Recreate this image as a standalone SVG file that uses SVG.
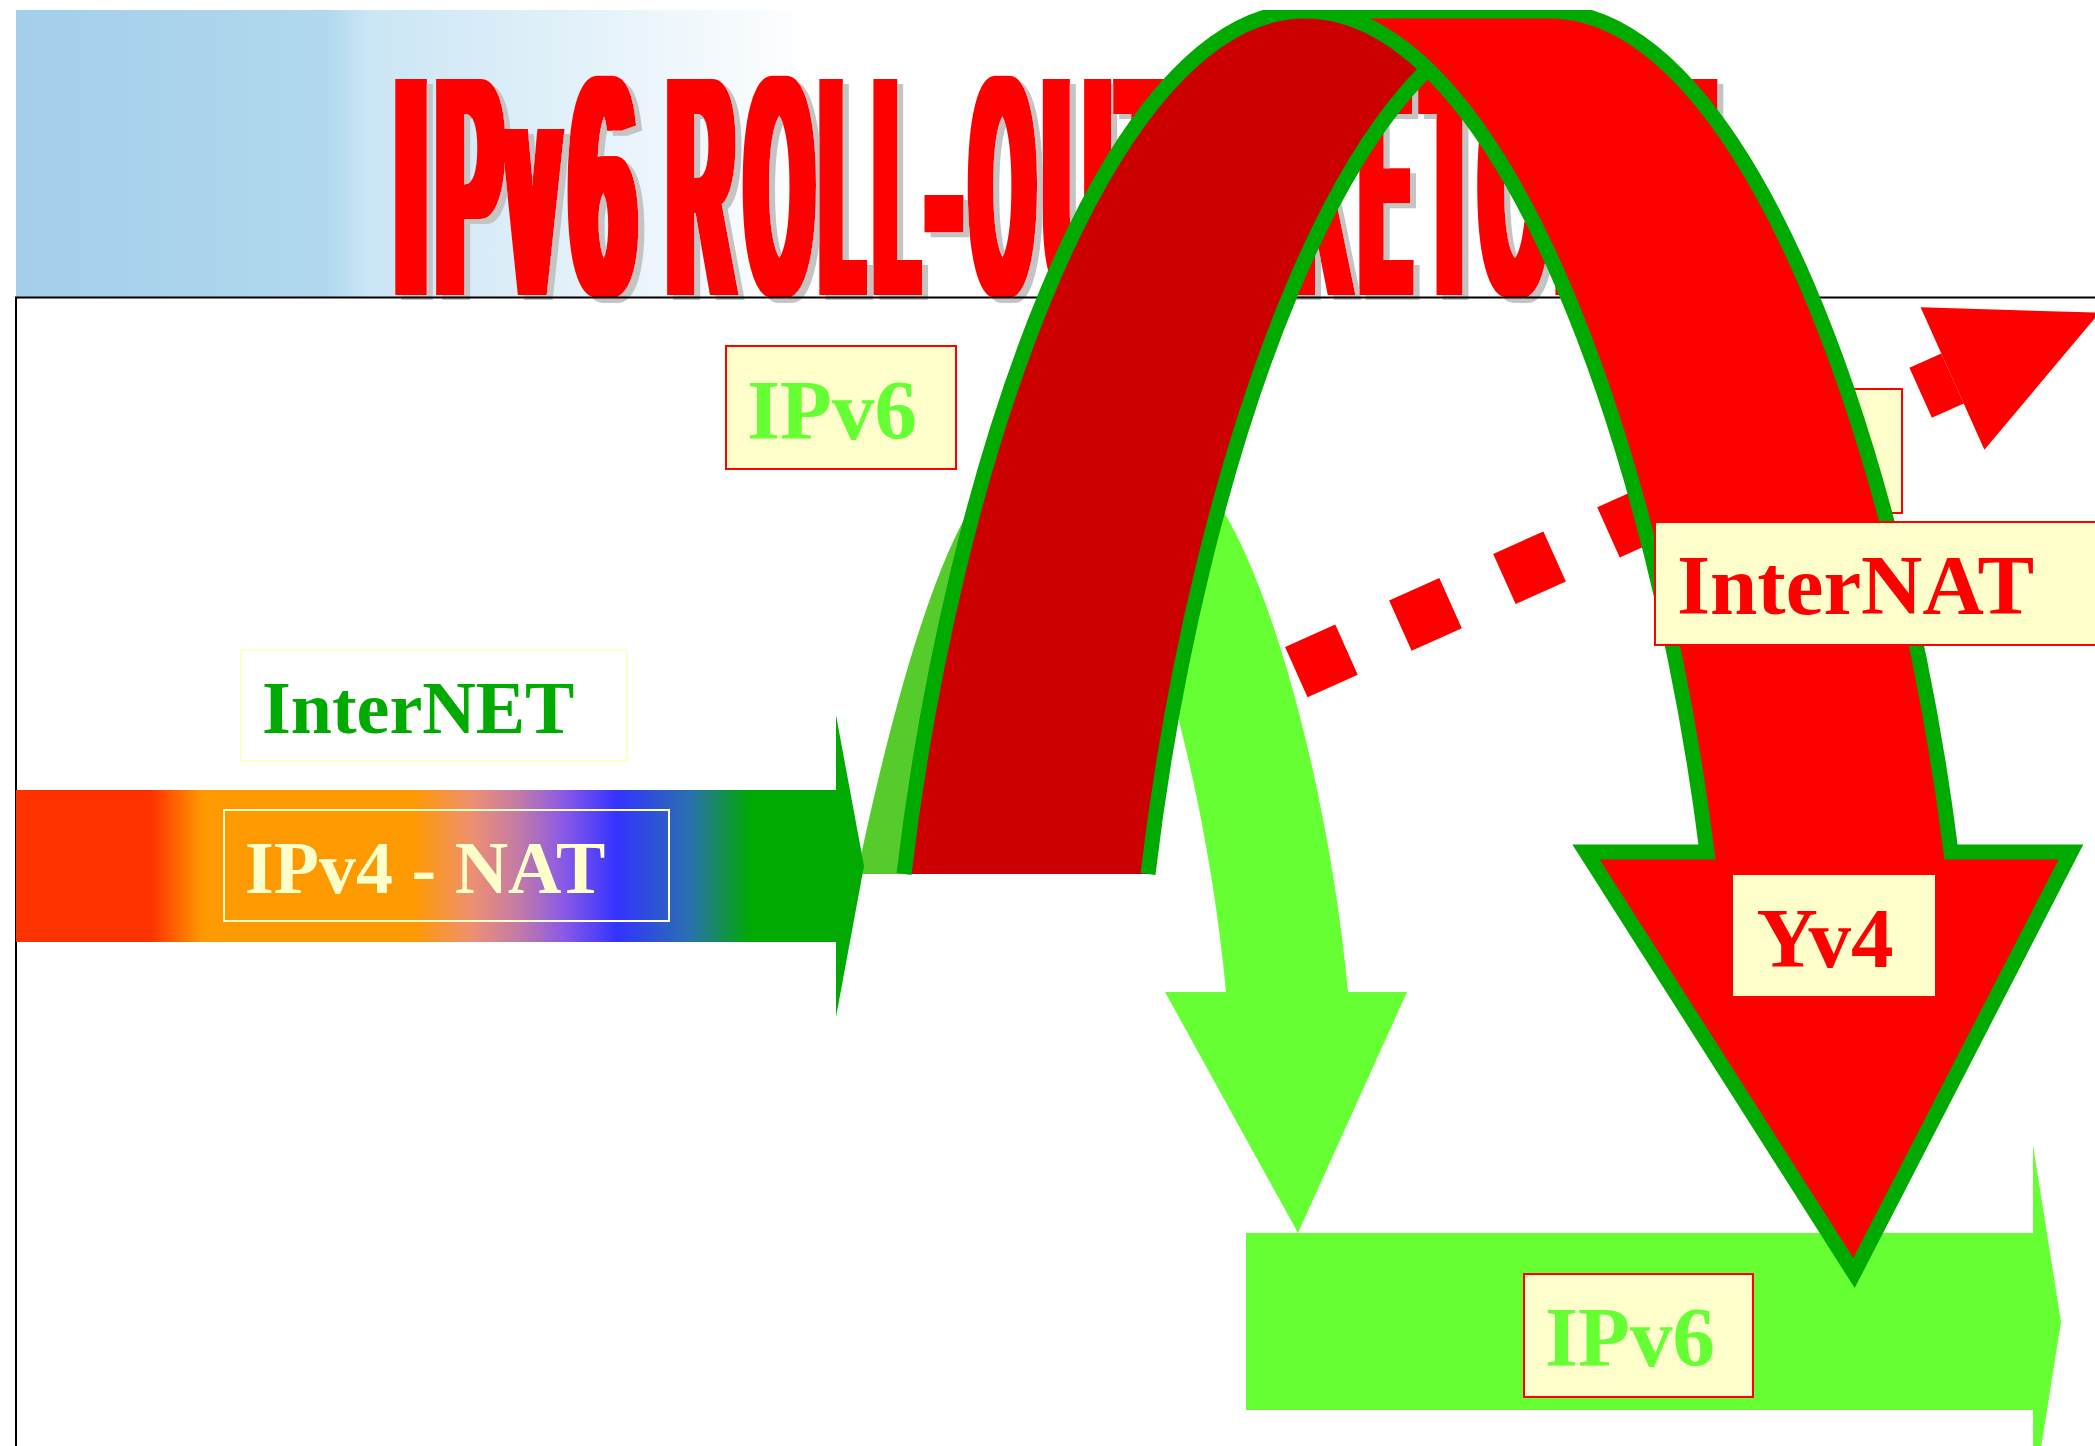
<svg xmlns="http://www.w3.org/2000/svg" width="2095" height="1446" viewBox="0 0 2095 1446">
<defs>
  <linearGradient id="sky" x1="16" y1="0" x2="900" y2="0" gradientUnits="userSpaceOnUse">
    <stop offset="0" stop-color="#A3CFEA"/>
    <stop offset="0.35" stop-color="#B1D8EE"/>
    <stop offset="0.4" stop-color="#CBE6F5"/>
    <stop offset="0.65" stop-color="#E4F2FA"/>
    <stop offset="0.9" stop-color="#FFFFFF"/>
  </linearGradient>
  <linearGradient id="v4" x1="16" y1="0" x2="864" y2="0" gradientUnits="userSpaceOnUse">
    <stop offset="0" stop-color="#FF3300"/>
    <stop offset="0.16" stop-color="#FF3300"/>
    <stop offset="0.22" stop-color="#FF9900"/>
    <stop offset="0.468" stop-color="#FF9900"/>
    <stop offset="0.537" stop-color="#EE9070"/>
    <stop offset="0.592" stop-color="#C47BA6"/>
    <stop offset="0.645" stop-color="#8B5AE6"/>
    <stop offset="0.709" stop-color="#3333FF"/>
    <stop offset="0.794" stop-color="#2A70B0"/>
    <stop offset="0.867" stop-color="#00AA00"/>
    <stop offset="1" stop-color="#00AA00"/>
  </linearGradient>
  <clipPath id="topclip"><rect x="0" y="10" width="2095" height="1436"/></clipPath>
  <filter id="ttlfx" x="-5%" y="-15%" width="110%" height="130%">
    <feMorphology in="SourceGraphic" operator="dilate" radius="28 0.3" result="d"/>
    <feFlood flood-color="#C4C4C4"/>
    <feComposite in2="d" operator="in"/>
    <feOffset dx="22" dy="5" result="s"/>
    <feMerge><feMergeNode in="s"/><feMergeNode in="d"/></feMerge>
  </filter>
</defs>
<style>
  .lbl{font-family:"Liberation Serif","Times New Roman",serif;font-weight:bold}
  .box{fill:#FFFFCC;stroke:#FF0000;stroke-width:2}
  .arc{stroke:#00AA00;stroke-width:15;stroke-linejoin:miter;stroke-miterlimit:6}
  .ttl{font-family:"Liberation Sans",Arial,sans-serif;font-weight:bold;font-size:314px}
</style>

<rect x="0" y="0" width="2095" height="1446" fill="#FFFFFF"/>

<g id="header">
  <rect x="16" y="10" width="1000" height="287" fill="url(#sky)"/>
  <text class="ttl" transform="scale(0.25,1)" y="295" fill="#FF0000" filter="url(#ttlfx)"><tspan x="1576.8" textLength="135.2" lengthAdjust="spacingAndGlyphs">I</tspan><tspan x="1746.4" textLength="260.8" lengthAdjust="spacingAndGlyphs">P</tspan><tspan x="2029.2" textLength="202.4" lengthAdjust="spacingAndGlyphs">v</tspan><tspan x="2281.2" textLength="261.2" lengthAdjust="spacingAndGlyphs">6</tspan> <tspan x="2672.4" textLength="261.6" lengthAdjust="spacingAndGlyphs">R</tspan><tspan x="2984.8" textLength="265.6" lengthAdjust="spacingAndGlyphs">O</tspan><tspan x="3288" textLength="160.4" lengthAdjust="spacingAndGlyphs">L</tspan><tspan x="3503.6" textLength="165.2" lengthAdjust="spacingAndGlyphs">L</tspan><tspan x="3710.8" textLength="130.4" lengthAdjust="spacingAndGlyphs">-</tspan><tspan x="3886" textLength="247.6" lengthAdjust="spacingAndGlyphs">O</tspan><tspan x="4177.6" textLength="261.2" lengthAdjust="spacingAndGlyphs">U</tspan><tspan x="4476.8" textLength="198.4" lengthAdjust="spacingAndGlyphs">T</tspan> <tspan x="4815.6" textLength="229.2" lengthAdjust="spacingAndGlyphs">S</tspan><tspan x="5164.4" textLength="232.4" lengthAdjust="spacingAndGlyphs">K</tspan><tspan x="5446.4" textLength="191.2" lengthAdjust="spacingAndGlyphs">E</tspan><tspan x="5696.8" textLength="202.4" lengthAdjust="spacingAndGlyphs">T</tspan><tspan x="5922.4" textLength="257.6" lengthAdjust="spacingAndGlyphs">C</tspan><tspan x="6182.4" textLength="726.8" lengthAdjust="spacingAndGlyphs">H</tspan></text>
  <path d="M16,1446 V297.5 H2095" fill="none" stroke="#000000" stroke-width="2"/>
</g>

<g id="connectors-back">
  <path d="M857,874 Q945.75,453 1034.5,453 L1156.5,453 Q1067.75,453 979,874 Z" fill="#55CC2B"/>
  <path d="M1034.5,453 L1156.5,453 C1242,453 1327,760 1348,992 L1407,992 L1298,1233 L1165,992 L1226,992 C1205,760 1120,453 1034.5,453 Z" fill="#66FF33"/>
  <path d="M1246,1233 H2033 V1145 L2061,1322 L2033,1498 V1410 H1246 Z" fill="#66FF33"/>
  <path d="M16,790 H836 V715 L864,866 L836,1017 V942 H16 Z" fill="url(#v4)"/>
  <line x1="1296.3" y1="672.1" x2="1952.5" y2="378.5" stroke="#FF0000" stroke-width="55" stroke-dasharray="55 59"/>
  <polygon points="1920.6,307.3 2099.5,312.7 1984.4,449.7" fill="#FF0000"/>
</g>

<g id="node-internet">
  <rect x="241" y="650" width="386" height="111" fill="#FFFFFF" stroke="#FFFFCC" stroke-width="2"/>
  <text class="lbl" x="262" y="733" font-size="74" fill="#00AA00">InterNET</text>
</g>
<g id="node-ipv4nat">
  <rect x="224" y="810" width="445" height="111" fill="none" stroke="#FFFFCC" stroke-width="2"/>
  <text class="lbl" x="245" y="893" font-size="74" fill="#FFFFCC">IPv4 - NAT</text>
</g>
<g id="node-ipv6-top">
  <rect class="box" x="726" y="346" width="230" height="123"/>
  <text class="lbl" x="832" y="439" font-size="85" fill="#66FF33" text-anchor="middle">IPv6</text>
</g>
<g id="node-hidden">
  <rect class="box" x="1640" y="389" width="262" height="124"/>
</g>

<g id="connectors" clip-path="url(#topclip)">
  <path d="M904,874 C952,470 1105,11 1305,11 L1549,11 C1349,11 1196,470 1148,874 Z" fill="#CC0000"/>
  <path d="M904,874 C952,470 1105,11 1305,11 L1549,11 C1349,11 1196,470 1148,874" fill="none" class="arc"/>
  <path d="M1305,11 L1549,11 C1749,11 1902,460 1951,852 L2071,852 L1854,1273 L1586,852 L1707,852 C1658,460 1505,11 1305,11 Z" fill="#FF0000" class="arc"/>
</g>

<g id="node-internat">
  <rect class="box" x="1655" y="522" width="460" height="123"/>
  <text class="lbl" x="1677" y="614" font-size="85" fill="#FF0000">InterNAT</text>
</g>
<g id="node-yv4">
  <rect x="1733" y="875" width="202" height="121" fill="#FFFFCC"/>
  <text class="lbl" x="1825" y="967" font-size="85" fill="#FF0000" text-anchor="middle">Yv4</text>
</g>
<g id="node-ipv6-bottom">
  <rect class="box" x="1524" y="1274" width="229" height="123"/>
  <text class="lbl" x="1630" y="1366" font-size="85" fill="#66FF33" text-anchor="middle">IPv6</text>
</g>
</svg>
